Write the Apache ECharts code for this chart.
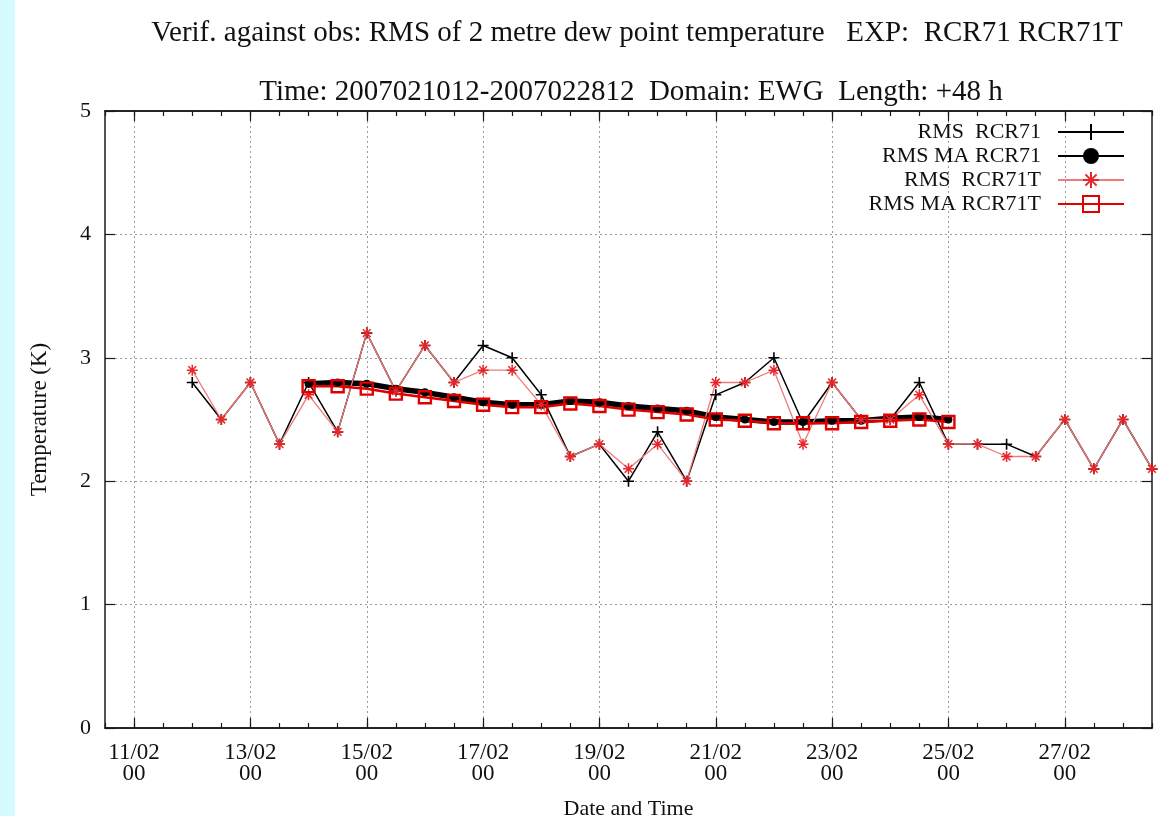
<!DOCTYPE html>
<html>
<head>
<meta charset="utf-8">
<script src="https://cdn.jsdelivr.net/npm/echarts@6/dist/echarts.min.js"></script>
<style>
  html, body { margin: 0; padding: 0; background: #ffffff; }
  #strip { position: absolute; left: 0; top: 0; width: 15px; height: 816px; background: #d4fbfd; }
  #chart { position: absolute; left: 0; top: 0; width: 1160px; height: 816px; }
</style>
</head>
<body>
<div id="strip"></div>
<div id="chart"></div>
<script>
// 12-hourly verification times, 2007-02-10 12 UTC .. 2007-02-28 12 UTC
const periodStart = Date.UTC(2007, 1, 10, 12);
const stepCount = 37;

// RMS of 2 m dew point temperature (K), every 12 h from 2007021200
const rmsStart = '2007021200';
const rmsRCR71 = [2.8, 2.5, 2.8, 2.3, 2.8, 2.4, 3.2, 2.73, 3.1, 2.8, 3.1, 3.0, 2.7, 2.2, 2.3, 2.0, 2.4,
  2.0, 2.7, 2.8, 3.0, 2.47, 2.8, 2.5, 2.5, 2.8, 2.3, 2.3, 2.3, 2.2, 2.5, 2.1, 2.5, 2.1];
const rmsRCR71T = [2.9, 2.5, 2.8, 2.3, 2.7, 2.4, 3.2, 2.73, 3.1, 2.8, 2.9, 2.9, 2.62, 2.2, 2.3, 2.1, 2.3,
  2.0, 2.8, 2.8, 2.9, 2.3, 2.8, 2.5, 2.5, 2.7, 2.3, 2.3, 2.2, 2.2, 2.5, 2.1, 2.5, 2.1];

// Moving averages, every 12 h from 2007021400 to 2007022500
const maStart = '2007021400';
const maRCR71 = [2.79, 2.80, 2.79, 2.75, 2.72, 2.68, 2.64, 2.62, 2.62, 2.65, 2.64, 2.61, 2.59, 2.57,
  2.52, 2.50, 2.48, 2.48, 2.49, 2.49, 2.51, 2.52, 2.50];
const maRCR71T = [2.77, 2.77, 2.75, 2.71, 2.68, 2.65, 2.62, 2.60, 2.60, 2.63, 2.61, 2.58, 2.56, 2.54,
  2.50, 2.49, 2.47, 2.47, 2.47, 2.48, 2.49, 2.50, 2.48];

const seriesNames = ['RMS  RCR71', 'RMS MA RCR71', 'RMS  RCR71T', 'RMS MA RCR71T'];
const yTicks = [0, 1, 2, 3, 4, 5];

const pad = n => String(n).padStart(2, '0');
const times = [];
for (let i = 0; i < stepCount; i++) {
  const d = new Date(periodStart + i * 12 * 3600 * 1000);
  times.push(d.getUTCFullYear() + pad(d.getUTCMonth() + 1) + pad(d.getUTCDate()) + pad(d.getUTCHours()));
}
const isMajor = idx => (idx - 1) % 4 === 0;
const fmtTime = t => t.slice(6, 8) + '/' + t.slice(4, 6) + '\n' + t.slice(8, 10);
const pairs = (start, vals) => {
  const k = times.indexOf(start);
  return vals.map((v, i) => [times[k + i], v]);
};

const FONT = '"Liberation Serif", "DejaVu Serif", serif';
const INK = '#1a1a1a';

function xAxisCfg(position, major, showLabels) {
  return {
    type: 'category', data: times, boundaryGap: false, position: position,
    axisLine: { show: true, lineStyle: { color: INK, width: 1.5 } },
    axisTick: {
      show: true, inside: true, length: major ? 10 : 5,
      interval: major ? ((i) => isMajor(i)) : 0,
      lineStyle: { color: INK, width: 1.2 }
    },
    axisLabel: {
      show: showLabels, interval: (i) => isMajor(i), formatter: fmtTime,
      fontFamily: FONT, fontSize: 23, color: '#111', margin: 14, lineHeight: 21
    },
    splitLine: {
      show: showLabels, interval: (i) => isMajor(i),
      lineStyle: { color: '#9a9a9a', type: [2, 3], width: 1 }
    },
    name: showLabels ? 'Date and Time' : '',
    nameLocation: 'middle', nameGap: 70,
    nameTextStyle: { fontFamily: FONT, fontSize: 22, color: '#111' }
  };
}

const plusPath = 'path://M0,5L10,5M5,0L5,10';
const starPath = 'path://M0,5L10,5M5,0L5,10M1.5,1.5L8.5,8.5M1.5,8.5L8.5,1.5';

const option = {
  animation: false,
  grid: { left: 105, right: 8, top: 111, bottom: 88, containLabel: false, outerBoundsMode: 'none' },
  graphic: [
    { type: 'text', style: {
      text: 'Verif. against obs: RMS of 2 metre dew point temperature   EXP:  RCR71 RCR71T',
      x: 637, y: 33, textAlign: 'center', textVerticalAlign: 'middle',
      font: '29px ' + FONT, fill: '#111' } },
    { type: 'text', style: {
      text: 'Time: 2007021012-2007022812  Domain: EWG  Length: +48 h',
      x: 631, y: 92, textAlign: 'center', textVerticalAlign: 'middle',
      font: '29px ' + FONT, fill: '#111' } }
  ],
  legend: {
    orient: 'vertical', align: 'right', right: 30, top: 116,
    itemWidth: 66, itemHeight: 20, itemGap: 2,
    textStyle: { fontFamily: FONT, fontSize: 22, color: '#111', lineHeight: 20, padding: [0, 12, 0, 0] },
    data: seriesNames
  },
  xAxis: [
    xAxisCfg('bottom', true, true),
    xAxisCfg('bottom', false, false),
    xAxisCfg('top', true, false),
    xAxisCfg('top', false, false)
  ],
  yAxis: [
    {
      type: 'value', min: 0, max: 5, interval: 1, position: 'left',
      axisLine: { show: true, lineStyle: { color: INK, width: 1.5 } },
      axisTick: { show: true, inside: true, length: 10, lineStyle: { color: INK, width: 1.2 } },
      axisLabel: { fontFamily: FONT, fontSize: 22, color: '#111', margin: 14,
        customValues: yTicks },
      splitLine: { show: true, lineStyle: { color: '#9a9a9a', type: [2, 3], width: 1 } },
      name: 'Temperature (K)', nameLocation: 'middle', nameGap: 54, nameRotate: 90,
      nameTextStyle: { fontFamily: FONT, fontSize: 23, color: '#111' }
    },
    {
      type: 'value', min: 0, max: 5, interval: 1, position: 'right',
      axisLine: { show: true, lineStyle: { color: INK, width: 1.5 } },
      axisTick: { show: true, inside: true, length: 10, lineStyle: { color: INK, width: 1.2 } },
      axisLabel: { show: false }, splitLine: { show: false }
    }
  ],
  series: [
    {
      name: seriesNames[0], type: 'line', data: pairs(rmsStart, rmsRCR71),
      symbol: plusPath, symbolSize: 11, showAllSymbol: true,
      lineStyle: { color: '#000', width: 1.5 },
      itemStyle: { color: '#000', borderColor: '#000', borderWidth: 1.6 }
    },
    {
      name: seriesNames[1], type: 'line', data: pairs(maStart, maRCR71),
      symbol: 'circle', symbolSize: 8, showAllSymbol: true,
      lineStyle: { color: '#000', width: 5.5 },
      itemStyle: { color: '#000' }
    },
    {
      name: seriesNames[2], type: 'line', data: pairs(rmsStart, rmsRCR71T),
      symbol: starPath, symbolSize: 11, showAllSymbol: true,
      lineStyle: { color: '#f07a7a', width: 1.3 },
      itemStyle: { color: '#e8262a', borderColor: '#e8262a', borderWidth: 1.5 }
    },
    {
      name: seriesNames[3], type: 'line', data: pairs(maStart, maRCR71T),
      symbol: 'rect', symbolSize: 12, showAllSymbol: true,
      lineStyle: { color: '#e00000', width: 2.5 },
      itemStyle: { color: 'rgba(0,0,0,0)', borderColor: '#e00000', borderWidth: 2.4 }
    }
  ]
};

const chart = echarts.init(document.getElementById('chart'), null, { renderer: 'canvas' });
chart.setOption(option);
</script>
</body>
</html>
